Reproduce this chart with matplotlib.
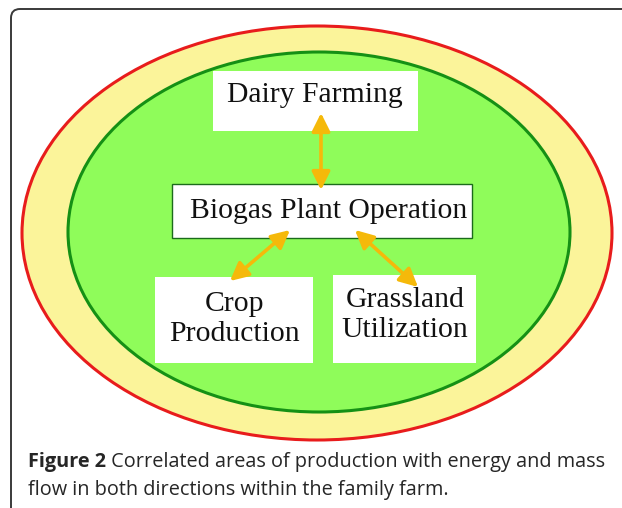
import matplotlib.pyplot as plt
from matplotlib.patches import Ellipse, FancyBboxPatch, Rectangle

# box labels and which ones have a border
labels = ["Dairy Farming", "Biogas Plant Operation", "Crop\nProduction", "Grassland\nUtilization"]
bordered = [False, True, False, False]
# box geometry in pixel coords (x0, y0, x1, y1) and text centre
boxes = [(213, 71, 418, 131), (172, 184, 472, 238), (155, 277, 313, 363), (333, 275, 476, 363)]
text_xy = [(315, 95), (329, 211), (234, 319), (405, 315)]
# two-headed arrows: start -> end
arrows = [((321, 113), (321, 190)), ((290, 230), (230, 281)), ((355, 230), (418, 287))]

caption_bold = "Figure 2"
caption_rest = " Correlated areas of production with energy and mass"
caption_line2 = "flow in both directions within the family farm."

fig = plt.figure(figsize=(6.22, 5.08), dpi=100)
ax = fig.add_axes([0, 0, 1, 1])
ax.set_xlim(0, 622)
ax.set_ylim(508, 0)
ax.axis("off")

# frame
ax.add_patch(FancyBboxPatch((11, 9), 640, 520, boxstyle="round,pad=0,rounding_size=9",
                            fc="white", ec="#3a3a3a", lw=1.4))

# the rings
ax.add_patch(Ellipse((317, 233), 590, 414, fc="#fbf49a", ec="#e81c1c", lw=2.2))
ax.add_patch(Ellipse((319, 232), 502, 360, fc="#8ffc5a", ec="#159015", lw=2.2))

for lab, b, brd, (tx, ty) in zip(labels, boxes, bordered, text_xy):
    x0, y0, x1, y1 = b
    ax.add_patch(Rectangle((x0, y0), x1 - x0, y1 - y0, fc="white",
                           ec="#1b6b1b" if brd else "none", lw=1.0))
    ax.text(tx, ty, lab, ha="center", va="center",
            family="Liberation Serif", fontsize=21.3, linespacing=1.22, color="#111111")

for (p, q) in arrows:
    ax.annotate("", xy=q, xytext=p,
                arrowprops=dict(arrowstyle="<|-|>,head_length=1.1,head_width=0.55",
                                color="#f5b90a", lw=2.6, shrinkA=0, shrinkB=0))

cap_font = dict(family="Open Sans", fontsize=14.3, color="#262626", va="center", ha="left")
t = ax.text(28, 462, caption_bold, fontweight="bold", **cap_font)
fig.canvas.draw()
bb = t.get_window_extent().transformed(ax.transData.inverted())
ax.text(max(bb.x0, bb.x1), 462, caption_rest, **cap_font)
ax.text(28, 490, caption_line2, **cap_font)

fig.savefig("out.png", dpi=100)
